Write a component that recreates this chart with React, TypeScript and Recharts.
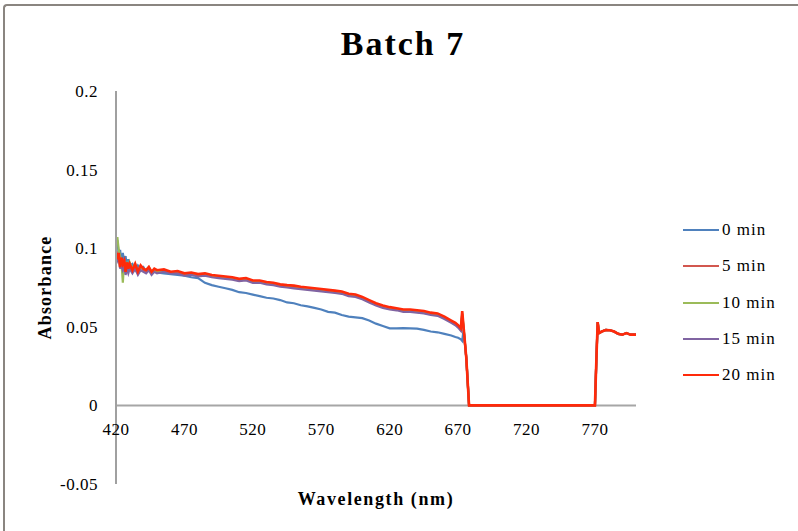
import React from 'react';
import { LineChart, Line, XAxis, YAxis, ReferenceLine, Legend, Label } from 'recharts';

const FONT = '"Liberation Serif", "Times New Roman", serif';

// wavelength grid (nm)
const wavelengths = [
  420, 421, 422, 423, 424, 425, 426, 427, 428, 429, 430,
  432, 434, 436, 438, 440, 442, 444, 446, 448, 450,
  455, 460, 465, 470, 475, 480, 485, 490, 495, 500, 505, 510, 515, 520, 525, 530,
  535, 540, 545, 550, 555, 560, 565, 570, 575, 580, 585, 590, 595, 600, 605, 610,
  615, 620, 625, 630, 635, 640, 645, 650, 655, 660, 665,
  668, 670, 672, 673, 674, 676, 678,
  700, 740, 770,
  771, 772, 773, 775, 778, 781, 784, 787, 790, 793, 796, 800,
];

// detector gap and the recovery after 770 nm are the same for every sample
const gapAndTail = [
  0, 0, 0,
  0.028, 0.053, 0.046, 0.047, 0.048, 0.0478, 0.047, 0.0455, 0.045, 0.046, 0.045, 0.045,
];

const min0 = [
  0.101, 0.105, 0.096, 0.099, 0.09, 0.097, 0.091, 0.095, 0.088, 0.093, 0.089,
  0.09, 0.086, 0.089, 0.087, 0.088, 0.085, 0.087, 0.085, 0.086, 0.0845,
  0.084, 0.0835, 0.083, 0.0825, 0.0815, 0.081, 0.078, 0.0765, 0.0755, 0.0745, 0.0735, 0.072,
  0.0715, 0.0705, 0.0695, 0.0685, 0.068, 0.067, 0.0655, 0.065, 0.0637, 0.063, 0.062, 0.061,
  0.0595, 0.059, 0.0575, 0.0565, 0.056, 0.0555, 0.054, 0.052, 0.0505, 0.049, 0.049, 0.0492,
  0.049, 0.0488, 0.048, 0.047, 0.0465, 0.0455, 0.0445,
  0.0435, 0.043, 0.042, 0.041, 0.048, 0.03, 0,
  ...gapAndTail,
];

const min5 = [
  0.097, 0.094, 0.095, 0.089, 0.092, 0.088, 0.093, 0.086, 0.089, 0.086, 0.089,
  0.085, 0.089, 0.084, 0.088, 0.086, 0.085, 0.087, 0.084, 0.086, 0.085,
  0.0855, 0.0845, 0.0845, 0.083, 0.0835, 0.0825, 0.083, 0.082, 0.0815, 0.081, 0.0805, 0.0795,
  0.08, 0.0785, 0.0785, 0.0775, 0.077, 0.076, 0.0755, 0.075, 0.0745, 0.074, 0.0735, 0.073,
  0.0725, 0.072, 0.0715, 0.07, 0.0695, 0.068, 0.066, 0.064, 0.0625, 0.0615, 0.061, 0.06,
  0.06, 0.0595, 0.059, 0.058, 0.0575, 0.0555, 0.053,
  0.0515, 0.05, 0.048, 0.058, 0.049, 0.03, 0,
  ...gapAndTail,
];

const min10 = [
  0.104, 0.107, 0.099, 0.095, 0.091, 0.078, 0.092, 0.088, 0.09, 0.086, 0.091,
  0.087, 0.09, 0.085, 0.088, 0.087, 0.086, 0.088, 0.085, 0.086, 0.085,
  0.086, 0.0845, 0.085, 0.0835, 0.084, 0.083, 0.0835, 0.0825, 0.082, 0.0815, 0.081, 0.08,
  0.0805, 0.079, 0.079, 0.078, 0.0775, 0.0765, 0.076, 0.0757, 0.075, 0.0745, 0.074, 0.0735,
  0.073, 0.0725, 0.072, 0.0705, 0.07, 0.0685, 0.0665, 0.0645, 0.063, 0.062, 0.0613, 0.0605,
  0.0605, 0.06, 0.0595, 0.0585, 0.058, 0.056, 0.0535,
  0.052, 0.0505, 0.0485, 0.059, 0.0495, 0.03, 0,
  ...gapAndTail,
];

const min15 = [
  0.096, 0.092, 0.094, 0.087, 0.09, 0.086, 0.088, 0.083, 0.087, 0.084, 0.087,
  0.084, 0.087, 0.083, 0.086, 0.085, 0.084, 0.086, 0.083, 0.085, 0.084,
  0.085, 0.084, 0.084, 0.0825, 0.083, 0.082, 0.0825, 0.0815, 0.081, 0.0805, 0.08, 0.079,
  0.0795, 0.078, 0.078, 0.077, 0.0765, 0.0755, 0.075, 0.0745, 0.074, 0.0735, 0.073, 0.0725,
  0.072, 0.0715, 0.071, 0.0695, 0.069, 0.0675, 0.0655, 0.0635, 0.062, 0.061, 0.0605, 0.0595,
  0.0595, 0.059, 0.0585, 0.0575, 0.057, 0.055, 0.0525,
  0.051, 0.0495, 0.0475, 0.057, 0.0485, 0.03, 0,
  ...gapAndTail,
];

const min20 = [
  0.098, 0.093, 0.097, 0.088, 0.094, 0.09, 0.092, 0.085, 0.091, 0.087, 0.09,
  0.086, 0.09, 0.085, 0.089, 0.087, 0.086, 0.088, 0.085, 0.087, 0.086,
  0.0865, 0.085, 0.0855, 0.084, 0.0845, 0.0835, 0.084, 0.083, 0.0825, 0.082, 0.0815, 0.0805,
  0.081, 0.0795, 0.0795, 0.0785, 0.078, 0.077, 0.0765, 0.0762, 0.0755, 0.075, 0.0745, 0.074,
  0.0735, 0.073, 0.0725, 0.071, 0.0705, 0.069, 0.067, 0.065, 0.0635, 0.0625, 0.0618, 0.061,
  0.061, 0.0605, 0.06, 0.059, 0.0585, 0.0565, 0.054,
  0.0525, 0.051, 0.049, 0.06, 0.05, 0.03, 0,
  ...gapAndTail,
];

const xTicks = [420, 470, 520, 570, 620, 670, 720, 770];
const yTicks = [-0.05, 0, 0.05, 0.1, 0.15, 0.2];

const series = [
  { key: 'm0', name: '0 min', color: '#4F81BD', width: 2.2, values: min0 },
  { key: 'm5', name: '5 min', color: '#D2574F', width: 2.2, values: min5 },
  { key: 'm10', name: '10 min', color: '#9BBB59', width: 2.2, values: min10 },
  { key: 'm15', name: '15 min', color: '#8064A2', width: 2.2, values: min15 },
  { key: 'm20', name: '20 min', color: '#FF2A0A', width: 2.6, values: min20 },
];

const data = wavelengths.map((w, i) => {
  const row: Record<string, number> = { w };
  series.forEach((s) => { row[s.key] = s.values[i]; });
  return row;
});

const W = 798;
const H = 531;
const PLOT_TOP = 91;
const PLOT_BOTTOM = 484;
const Y_MIN = -0.05;
const Y_MAX = 0.2;
// pixel row of the zero line, where the category labels sit
const ZERO_Y = PLOT_TOP + ((PLOT_BOTTOM - PLOT_TOP) * Y_MAX) / (Y_MAX - Y_MIN);

const XTick = ({ x, payload }: any) => (
  <text x={x} y={ZERO_Y + 30} textAnchor="middle" fontFamily={FONT} fontSize={17} fill="#000" letterSpacing={0.5}>
    {payload.value}
  </text>
);

const LegendList = () => (
  <div style={{ fontFamily: FONT, fontSize: 17, letterSpacing: 1, color: '#000' }}>
    {series.map((s) => (
      <div key={s.key} style={{ display: 'flex', alignItems: 'center', height: 36.3 }}>
        <svg width={37} height={4} style={{ marginRight: 2 }}>
          <line x1={0} y1={2} x2={36} y2={2} stroke={s.color} strokeWidth={2} />
        </svg>
        <span>{s.name}</span>
      </div>
    ))}
  </div>
);

export default function App() {
  return (
    <div style={{ position: 'relative', width: W, height: H, background: '#fff', overflow: 'hidden' }}>
      <style>{'body{margin:0}'}</style>
      <div
        style={{
          position: 'absolute', left: 3, top: 4, right: -4, bottom: -4,
          borderLeft: '2px solid #8a8580', borderTop: '2px solid #8a8580', borderTopLeftRadius: 4,
        }}
      />
      <div
        style={{
          position: 'absolute', left: 4, width: W, top: 25, textAlign: 'center',
          fontFamily: FONT, fontWeight: 'bold', fontSize: 34, letterSpacing: 2, color: '#000',
        }}
      >
        Batch 7
      </div>
      <LineChart
        width={W}
        height={H}
        data={data}
        margin={{ top: PLOT_TOP, right: 162, bottom: H - PLOT_BOTTOM - 30, left: 0 }}
        style={{ position: 'absolute', left: 0, top: 0 }}
      >
        <XAxis
          dataKey="w"
          type="number"
          domain={[420, 800]}
          ticks={xTicks}
          allowDataOverflow
          axisLine={false}
          tickLine={false}
          height={30}
          tick={<XTick />}
        >
          <Label
            value="Wavelength (nm)"
            position="insideBottom"
            offset={9}
            style={{ fontFamily: FONT, fontWeight: 'bold', fontSize: 18, letterSpacing: 1.6, fill: '#000' }}
          />
        </XAxis>
        <YAxis
          type="number"
          domain={[Y_MIN, Y_MAX]}
          ticks={yTicks}
          width={116}
          tickLine={false}
          tickSize={0}
          tickMargin={18}
          axisLine={{ stroke: '#a0a0a0', strokeWidth: 2 }}
          tick={{ fontFamily: FONT, fontSize: 17, fill: '#000', letterSpacing: 0.5 }}
        >
          <Label
            value="Absorbance"
            angle={-90}
            position="insideLeft"
            offset={45}
            style={{ textAnchor: 'middle', fontFamily: FONT, fontWeight: 'bold', fontSize: 18, letterSpacing: 1.2, fill: '#000' }}
          />
        </YAxis>
        <ReferenceLine y={0} stroke="#a6a6a6" strokeWidth={2} />
        {series.map((s) => (
          <Line
            key={s.key}
            dataKey={s.key}
            name={s.name}
            stroke={s.color}
            strokeWidth={s.width}
            dot={false}
            type="linear"
            isAnimationActive={false}
          />
        ))}
        <Legend
          layout="horizontal"
          verticalAlign="middle"
          align="center"
          content={<LegendList />}
          wrapperStyle={{ left: 683, top: 212, width: 115 }}
        />
      </LineChart>
    </div>
  );
}
